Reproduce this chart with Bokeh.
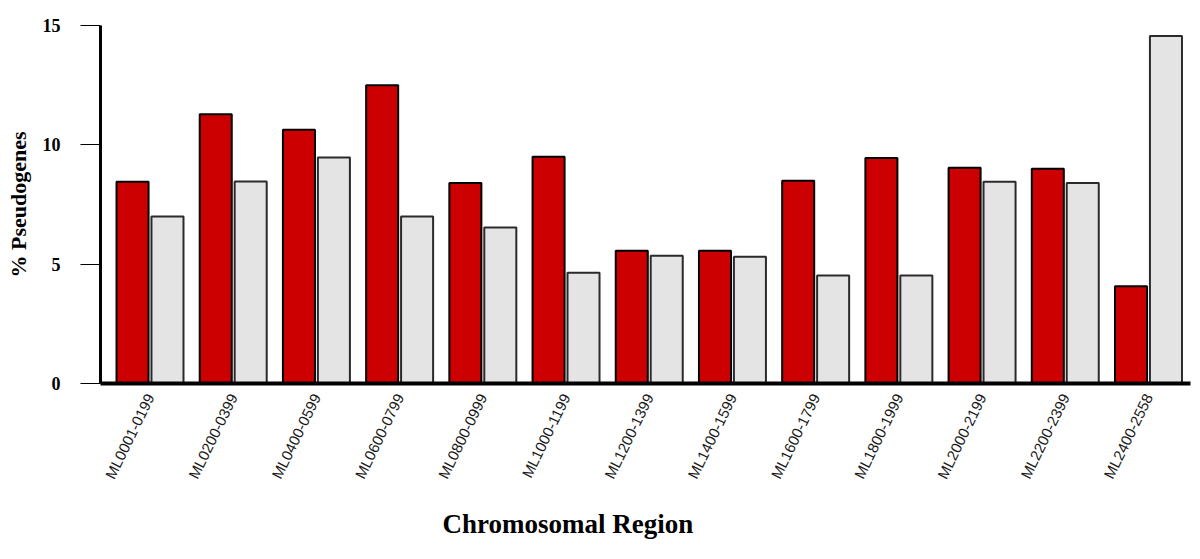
import math
from bokeh.plotting import figure
from bokeh.models import Range1d, FixedTicker, Title
from bokeh.embed import file_html
from bokeh.resources import INLINE

regions = ["ML0001-0199", "ML0200-0399", "ML0400-0599", "ML0600-0799", "ML0800-0999",
           "ML1000-1199", "ML1200-1399", "ML1400-1599", "ML1600-1799", "ML1800-1999",
           "ML2000-2199", "ML2200-2399", "ML2400-2558"]
series_red = [8.45, 11.28, 10.63, 12.5, 8.4, 9.5, 5.56, 5.56, 8.49, 9.45, 9.04, 9.0, 4.07]
series_gray = [7.0, 8.46, 9.47, 7.0, 6.54, 4.64, 5.35, 5.31, 4.52, 4.52, 8.45, 8.4, 14.56]
y_ticks = [0, 5, 10, 15]

idx = list(range(len(regions)))

p = figure(width=1192, height=559, output_backend="svg", toolbar_location=None,
           x_range=Range1d(-0.595, 12.505), y_range=Range1d(0, 15),
           min_border_left=100, min_border_right=2, min_border_top=25, min_border_bottom=176)
p.outline_line_color = None
p.xgrid.visible = False
p.ygrid.visible = False
p.background_fill_color = "white"

bw = 0.385
p.vbar(x=[i - 0.21 for i in idx], top=series_red, width=bw, bottom=0,
       fill_color="#CC0000", line_color="#000000", line_width=2)
p.vbar(x=[i + 0.21 for i in idx], top=series_gray, width=bw, bottom=0,
       fill_color="#E4E4E4", line_color="#2a2a2a", line_width=2)

# x axis
xa = p.xaxis[0]
xa.ticker = FixedTicker(ticks=idx)
xa.major_label_overrides = {i: r for i, r in zip(idx, regions)}
xa.major_label_orientation = math.radians(64)
xa.major_tick_out = 0
xa.major_tick_in = 0
xa.minor_tick_out = 0
xa.minor_tick_in = 0
xa.axis_line_width = 4
xa.axis_line_color = "black"
xa.major_label_text_font = "Liberation Sans"
xa.major_label_text_font_size = "15px"
xa.major_label_text_color = "#1a1a1a"
xa.major_label_standoff = 11

# y axis
ya = p.yaxis[0]
ya.ticker = FixedTicker(ticks=y_ticks)
ya.major_tick_out = 20
ya.major_tick_in = 0
ya.minor_tick_out = 0
ya.minor_tick_in = 0
ya.major_tick_line_width = 1
ya.axis_line_width = 3
ya.axis_line_color = "black"
ya.major_label_text_font = "Liberation Serif"
ya.major_label_text_font_style = "bold"
ya.major_label_text_font_size = "18px"
ya.major_label_text_color = "black"
ya.major_label_standoff = 20
ya.axis_label = "% Pseudogenes"
ya.axis_label_text_font = "Liberation Serif"
ya.axis_label_text_font_style = "bold"
ya.axis_label_text_font_size = "22px"
ya.axis_label_text_color = "black"
ya.axis_label_standoff = 9

t = Title(text="Chromosomal Region", align="left", offset=342,
          text_font="Liberation Serif", text_font_style="bold",
          text_font_size="27px", text_color="black", standoff=36)
p.add_layout(t, "below")

open("out.html", "w").write(file_html(p, INLINE))
